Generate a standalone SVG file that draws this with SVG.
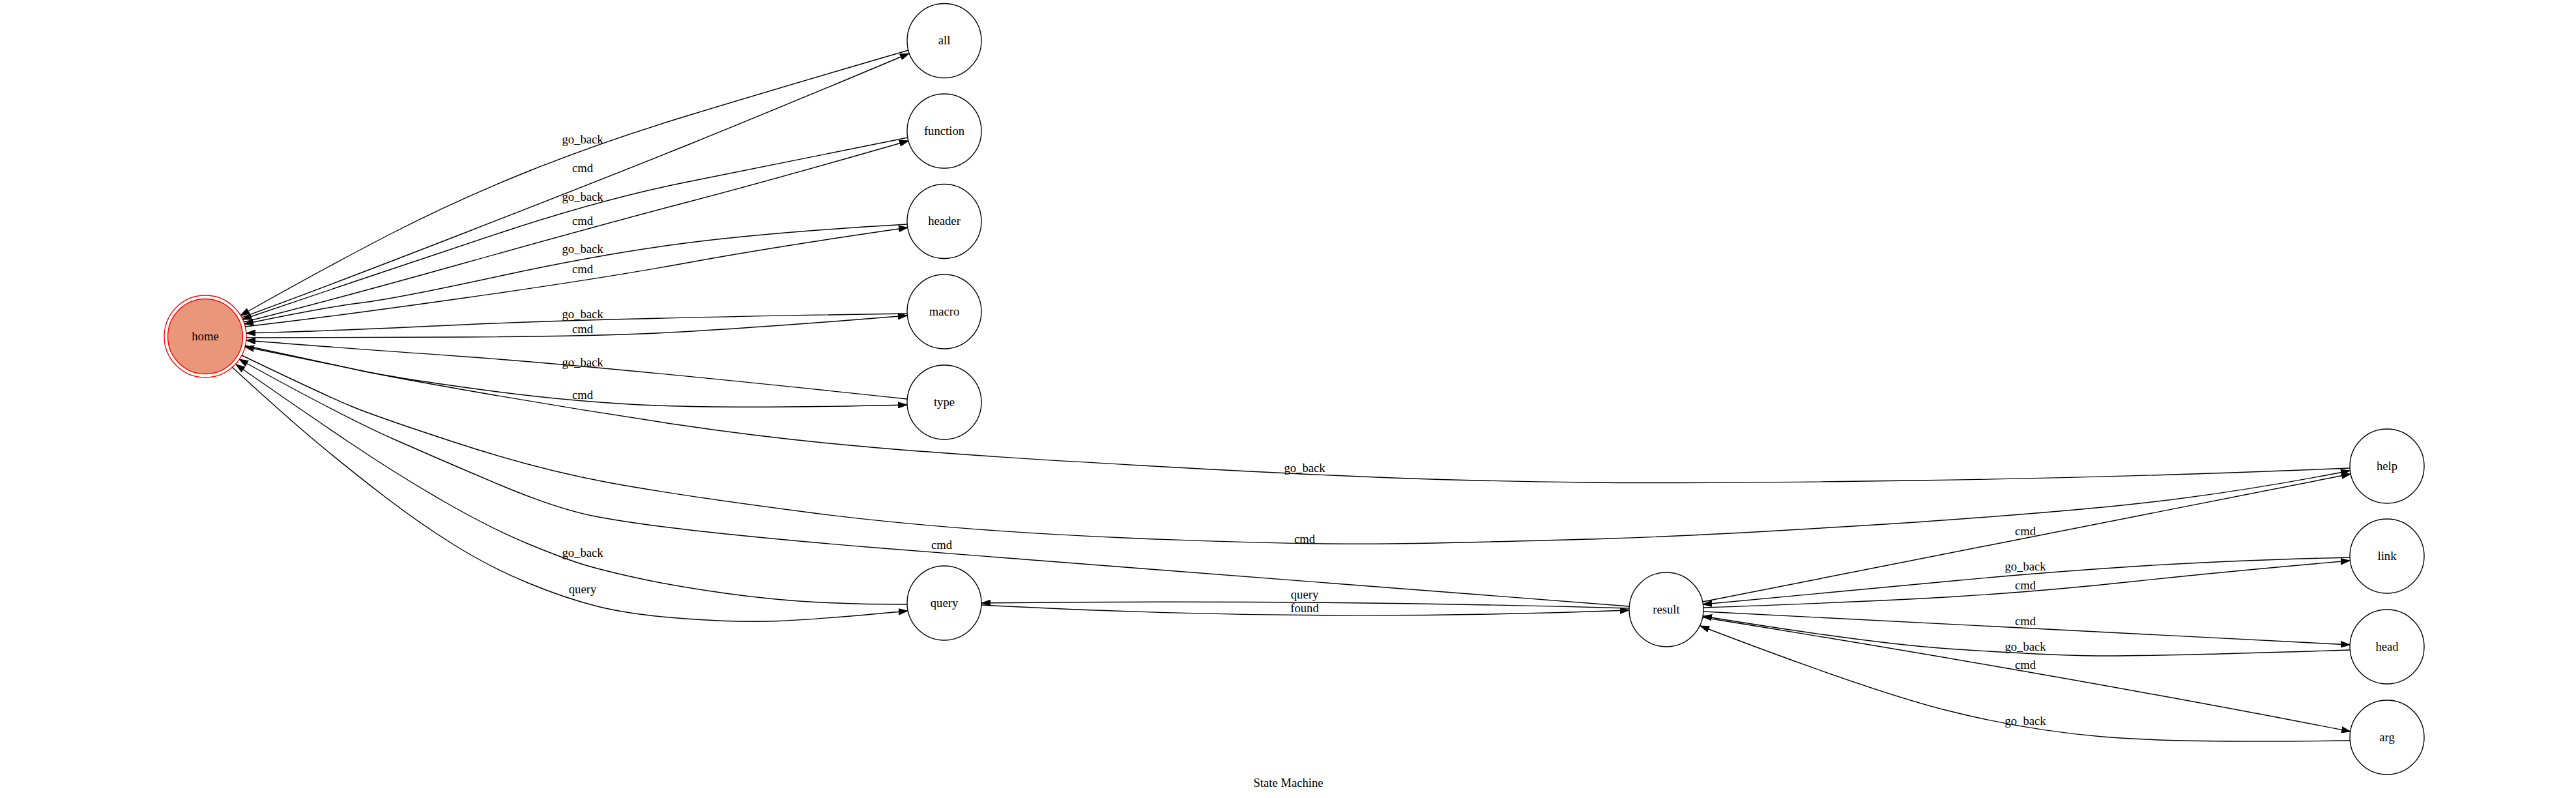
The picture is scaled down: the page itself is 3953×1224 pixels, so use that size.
<svg xmlns="http://www.w3.org/2000/svg" width="3953" height="1224" viewBox="0 0 3953 1224">
<style>
text{font-family:"Liberation Serif","Times New Roman",serif;font-size:18.67px;text-anchor:middle;fill:#000}
.node circle{fill:none;stroke:#000;stroke-width:1.4}
#edges path{fill:none;stroke:#000;stroke-width:1.4;marker-end:url(#arr)}
</style>
<defs>
<marker id="arr" markerUnits="userSpaceOnUse" markerWidth="14" markerHeight="10" refX="14" refY="5" orient="auto">
<path d="M0,0.3 L14,5 L0,9.7 Z" fill="#000" stroke="#000" stroke-width="1"/>
</marker>
</defs>
<rect x="0" y="0" width="3953" height="1224" fill="#fff"/>

<g id="node-home" class="node">
<circle cx="315" cy="516" r="63" style="stroke:#ff0000"/>
<circle cx="315" cy="516" r="57.5" style="fill:#e9967a;stroke:#ff0000"/>
<text x="315" y="521.5">home</text>
</g>
<g id="node-all" class="node"><circle cx="1449" cy="62.5" r="57"/><text x="1449" y="68">all</text></g>
<g id="node-function" class="node"><circle cx="1449" cy="201" r="57"/><text x="1449" y="206.5">function</text></g>
<g id="node-header" class="node"><circle cx="1449" cy="339.5" r="57"/><text x="1449" y="345">header</text></g>
<g id="node-macro" class="node"><circle cx="1449" cy="478" r="57"/><text x="1449" y="483.5">macro</text></g>
<g id="node-type" class="node"><circle cx="1449" cy="617" r="57"/><text x="1449" y="622.5">type</text></g>
<g id="node-query" class="node"><circle cx="1449" cy="925" r="57"/><text x="1449" y="930.5">query</text></g>
<g id="node-result" class="node"><circle cx="2557" cy="935" r="57"/><text x="2557" y="940.5">result</text></g>
<g id="node-help" class="node"><circle cx="3663" cy="715" r="57"/><text x="3663" y="720.5">help</text></g>
<g id="node-link" class="node"><circle cx="3663" cy="853" r="57"/><text x="3663" y="858.5">link</text></g>
<g id="node-head" class="node"><circle cx="3663" cy="992" r="57"/><text x="3663" y="997.5">head</text></g>
<g id="node-arg" class="node"><circle cx="3663" cy="1131" r="57"/><text x="3663" y="1136.5">arg</text></g>

<g id="edges">
<path d="M1394,77 Q1185,138 1055,177.5 Q925,217 812.5,262 Q700,307 600,358.5 Q500,410 369,484"/>
<text x="894" y="220">go_back</text>
<path d="M371,487 Q500,440 716,356 Q932,272 1058.5,221 Q1185,170 1395,82"/>
<text x="894" y="263.5">cmd</text>
<path d="M1393,211 Q1185,253 1055,279 Q925,305 766.5,357.5 Q608,410 554,428.5 Q500,447 372,490"/>
<text x="894" y="307.5">go_back</text>
<path d="M374,494 Q500,463 712.5,403.5 Q925,344 1055,310 Q1185,276 1394,216"/>
<text x="894" y="345">cmd</text>
<path d="M1392,344 Q1185,356 1055,372.5 Q925,389 766.5,423.5 Q608,458 554,464.5 Q500,471 375,497"/>
<text x="894" y="387.5">go_back</text>
<path d="M376,501 Q500,487 712.5,457 Q925,427 1055,403 Q1185,379 1393,349"/>
<text x="894" y="419">cmd</text>
<path d="M1392,481 Q925,488 712.5,498 Q500,508 378,511"/>
<text x="894" y="488">go_back</text>
<path d="M378,518 Q500,518 712.5,517 Q925,516 1055,508.5 Q1185,501 1392,484"/>
<text x="894" y="510.5">cmd</text>
<path d="M1392,612 Q925,562 712.5,547 Q500,532 378,522"/>
<text x="894" y="561.5">go_back</text>
<path d="M376,530 Q500,557 554,568.5 Q608,580 745,598.5 Q882,617 1008,622 Q1134,627 1392,621"/>
<text x="894" y="611.5">cmd</text>
<path d="M3606,718 Q3276,732 2938,737 Q2600,742 2436,740 Q2272,738 2137,733 Q2002,728 1751,714 Q1500,700 1342.5,686.5 Q1185,673 1041,651.5 Q897,630 752.5,605 Q608,580 554,568.5 Q500,557 376,532"/>
<text x="2002" y="724">go_back</text>
<path d="M371,545 Q500,607 540,623.5 Q580,640 702.5,680 Q825,720 933,740 Q1041,760 1245.5,786.5 Q1450,813 1726,825 Q2002,837 2172,833.5 Q2342,830 2471,826 Q2600,822 2836.5,807.5 Q3073,793 3242,776.5 Q3411,760 3606,722"/>
<text x="2002" y="832.5">cmd</text>
<path d="M2500,930 Q1991,890 1745.5,871.5 Q1500,853 1342.5,840 Q1185,827 1077,815 Q969,803 911,791.5 Q853,780 766.5,743.5 Q680,707 604,673.5 Q528,640 367,551"/>
<text x="1445" y="842">cmd</text>
<path d="M1392,927 Q1315,927 1250,923.5 Q1185,920 1113,910 Q1041,900 987,888.5 Q933,877 900.5,867.5 Q868,858 810,834 Q752,810 680,768.5 Q608,727 536,678.5 Q464,630 362,559"/>
<text x="894" y="854">go_back</text>
<path d="M356,563 Q440,640 488,680 Q536,720 590,761.5 Q644,803 698,836.5 Q752,870 810,894 Q868,918 918.5,930.5 Q969,943 1051.5,949 Q1134,955 1195.5,952.5 Q1257,950 1393,937"/>
<text x="894" y="910">query</text>
<path d="M2500,933 Q2002,919 1506,925"/>
<text x="2002" y="918">query</text>
<path d="M1506,928 Q2002,955 2500,936"/>
<text x="2002" y="939">found</text>
<path d="M2613,923 L3607,727"/>
<text x="3108" y="820.5">cmd</text>
<path d="M3606,855 Q3411,860 3272.5,869 Q3134,878 3002,890.5 Q2870,903 2613,927"/>
<text x="3108" y="875">go_back</text>
<path d="M2614,932 Q2870,923 3002,915 Q3134,907 3272.5,892 Q3411,877 3606,860"/>
<text x="3108" y="904">cmd</text>
<path d="M2614,938 L3606,989"/>
<text x="3108" y="959">cmd</text>
<path d="M3606,997 Q3276,1008 3192,1005.5 Q3108,1003 2989,995 Q2870,987 2613,945"/>
<text x="3108" y="998">go_back</text>
<path d="M2613,947 Q3172,1037 3607,1122"/>
<text x="3108" y="1026">cmd</text>
<path d="M3606,1136 Q3344,1140 3226,1130 Q3108,1120 2989,1090 Q2870,1060 2609,960"/>
<text x="3108" y="1111.5">go_back</text>
</g>

<text x="1977" y="1207">State Machine</text>
</svg>
